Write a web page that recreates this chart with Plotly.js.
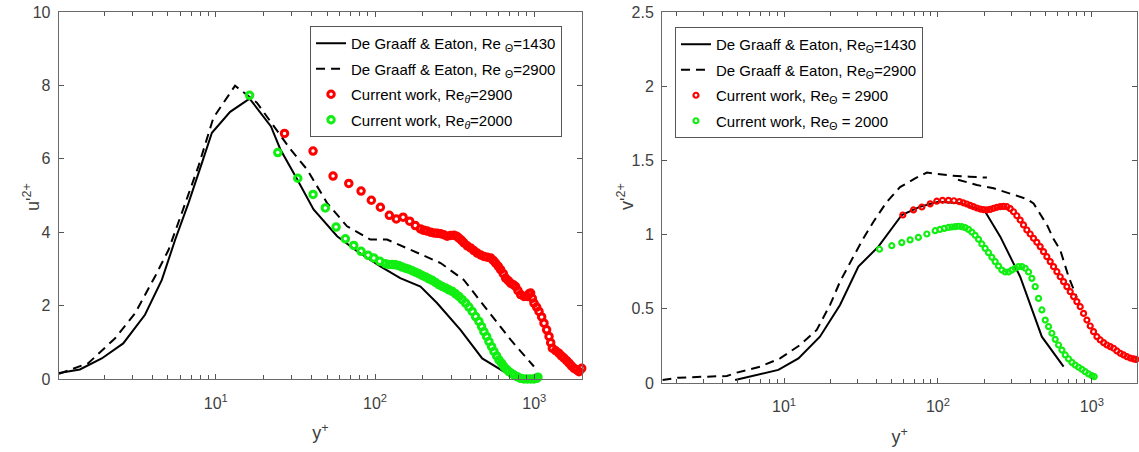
<!DOCTYPE html>
<html>
<head>
<meta charset="utf-8">
<script src="https://cdn.plot.ly/plotly-3.0.1.min.js"></script>
<style>html,body{margin:0;padding:0;background:#fff;}#chart{width:1139px;height:452px;}</style>
</head>
<body>
<div id="chart"></div>
<script>
// ---------- Left panel: u'^2+ ----------
const uDG1430_x = [1.035, 1.40, 1.92, 2.62, 3.59, 4.58, 5.56, 6.74, 8.18, 9.45, 12.3, 16.3, 22.2, 25.4, 32.4, 41.1, 57.8, 77.1, 108, 144, 193, 245, 344, 471, 645];
const uDG1430_y = [0.16, 0.26, 0.56, 0.97, 1.75, 2.70, 3.80, 4.80, 5.89, 6.71, 7.28, 7.64, 6.88, 6.26, 5.44, 4.62, 3.89, 3.48, 3.07, 2.75, 2.52, 2.07, 1.34, 0.56, 0.20];

const uDG2900_x = [1.035, 1.58, 2.33, 3.11, 4.16, 5.05, 6.12, 7.78, 9.66, 13.2, 18.1, 29.4, 37.4, 49.9, 66.7, 93.5, 119, 175, 258, 361, 507, 710, 995];
const uDG2900_y = [0.14, 0.43, 1.11, 1.79, 2.80, 3.52, 4.53, 5.80, 7.12, 7.99, 7.53, 6.26, 5.71, 4.80, 4.16, 3.80, 3.80, 3.48, 3.16, 2.70, 1.89, 1.07, 0.34];

const uCW2900_x = [27.0, 40.8, 54.5, 68.4, 81.7, 94.8, 108, 123, 136, 150, 165, 179,
  193, 202.5, 212.5, 223, 234, 245.7, 257.8, 270.5, 283.9, 297.9, 312.7, 325, 336.2, 349.4, 361.4, 379.3, 398, 417.7, 438.4, 460.1, 482.8, 506.7, 531.8, 552.7, 571.7, 594.2, 614.7, 638.9, 660.7, 686.8, 710.4, 738.4, 763.7, 790, 821.1, 861.6, 904.2, 926.3, 949, 972.2, 995.9, 1035, 1071, 1113, 1151, 1196, 1238, 1268, 1299, 1363, 1431, 1480, 1538, 1598, 1654, 1711, 1778, 1848, 1911, 1987];
const uCW2900_y = [6.69, 6.21, 5.53, 5.33, 5.12, 4.87, 4.68, 4.46, 4.36, 4.41, 4.30, 4.18,
  4.09, 4.05, 4.03, 4.00, 3.98, 3.97, 3.96, 3.93, 3.89, 3.91, 3.92, 3.89, 3.84, 3.78, 3.71, 3.63, 3.57, 3.50, 3.43, 3.38, 3.34, 3.32, 3.30, 3.23, 3.16, 3.07, 2.98, 2.87, 2.75, 2.68, 2.61, 2.57, 2.52, 2.41, 2.30, 2.25, 2.25, 2.32, 2.34, 2.20, 2.07, 1.96, 1.84, 1.69, 1.52, 1.34, 1.16, 0.99, 0.84, 0.77, 0.70, 0.63, 0.57, 0.50, 0.43, 0.36, 0.29, 0.25, 0.20, 0.29];

const uCW2000_x = [16.3, 24.5, 32.7, 40.8, 48.7, 56.9, 65.1, 73.5, 81.7, 90.4, 98.2, 107,
  116.2, 122, 128, 134.4, 141, 148, 155.3, 163, 171, 179.5, 188.4, 197.7, 207.5, 217.7, 228.5, 239.8, 251.6, 264.1, 277.1, 290.9, 305.3, 320.3, 336.2, 352.8, 370.3, 388.6, 407.8, 428, 449.2, 466.9, 482.8, 501.9, 519.2, 539.6, 558.2, 580.2, 600.1, 623.6, 645.2, 670.6, 693.4, 720.8, 745.7, 782.5, 821.1, 861.7, 904.2, 949, 995.9, 1035, 1055];
const uCW2000_y = [7.73, 6.17, 5.47, 5.03, 4.66, 4.14, 3.82, 3.64, 3.48, 3.37, 3.30, 3.21,
  3.14, 3.12, 3.12, 3.11, 3.09, 3.05, 3.02, 2.99, 2.95, 2.91, 2.87, 2.82, 2.78, 2.73, 2.69, 2.63, 2.57, 2.52, 2.48, 2.43, 2.39, 2.32, 2.25, 2.16, 2.07, 1.96, 1.84, 1.70, 1.57, 1.43, 1.29, 1.16, 1.02, 0.88, 0.75, 0.63, 0.52, 0.43, 0.34, 0.26, 0.20, 0.15, 0.11, 0.06, 0.02, 0.00, 0.00, 0.00, 0.00, 0.02, 0.05];

// ---------- Right panel: v'^2+ ----------
const vDG1430_x = [4.81, 9.18, 12.4, 17.1, 23.1, 30.4, 41.0, 58.2, 76.6, 101, 139, 203, 254, 342, 473, 655];
const vDG1430_y = [0.02, 0.088, 0.166, 0.312, 0.526, 0.784, 0.919, 1.132, 1.188, 1.222, 1.211, 1.154, 0.986, 0.716, 0.312, 0.110];

const vDG2900_x = [1.62, 2.06, 4.25, 4.93, 6.99, 9.42, 12.7, 16.3, 19.9, 23.1, 28.2, 32.8, 38.1, 46.5, 56.7, 71.1, 84.7, 103, 123, 160, 208, null, 135, 179, 230, 295, 378, 418, 460, 511, 564, 623, 706, 800];
const vDG2900_y = [0.02, 0.036, 0.047, 0.07, 0.11, 0.166, 0.256, 0.357, 0.526, 0.683, 0.851, 0.975, 1.087, 1.22, 1.32, 1.379, 1.418, 1.409, 1.397, 1.39, 1.384, null, 1.37, 1.334, 1.312, 1.278, 1.24, 1.21, 1.14, 1.065, 0.97, 0.896, 0.716, 0.575];

const vCW2900_x = [59.1, 69.3, 78.6, 89, 98.2, 107, 117, 127, 138, 146,
  154, 161.9, 170.2, 178.9, 188.1, 197.7, 207.8, 218.4, 229.6, 241.3, 253.7, 266.7, 280.3, 294.7, 309.7, 325.6, 342.2, 359.8, 378.2, 397.6, 417.9, 439.3, 461.7, 485.4, 510.3, 536.3, 563.8, 592.6, 623, 654.8, 688.4, 723.6, 760.7, 799.4, 840.5, 883.5, 928.8, 976.1, 1026, 1079, 1134, 1192, 1253, 1317, 1384, 1455, 1530, 1608, 1690, 1776, 1867, 1934];
const vCW2900_y = [1.132, 1.166, 1.186, 1.207, 1.225, 1.231, 1.231, 1.228, 1.222, 1.214,
  1.206, 1.197, 1.188, 1.179, 1.172, 1.168, 1.166, 1.170, 1.177, 1.184, 1.188, 1.190, 1.188, 1.175, 1.154, 1.127, 1.098, 1.065, 1.031, 1.004, 0.975, 0.948, 0.919, 0.885, 0.851, 0.818, 0.784, 0.750, 0.716, 0.683, 0.649, 0.615, 0.582, 0.548, 0.514, 0.469, 0.424, 0.384, 0.346, 0.312, 0.290, 0.272, 0.256, 0.245, 0.234, 0.216, 0.200, 0.189, 0.177, 0.168, 0.162, 0.159];

const vCW2000_x = [41.7, 50.1, 58.2, 65.9, 74.6, 84.7, 95.9, 103, 110, 117, 123,
  129.4, 135.9, 142.9, 150.2, 157.9, 166, 174.5, 183.4, 192.8, 202.7, 213.1, 224, 235.4, 247.5, 260.2, 273.5, 287.4, 302.1, 317.6, 333.9, 351, 368.9, 387.8, 407.6, 428.5, 450.5, 473.5, 497.8, 523.2, 550, 578.1, 607.6, 638.9, 671.5, 705.9, 742, 779.8, 819.8, 861.5, 905.8, 952.1, 1001, 1036];
const vCW2000_y = [0.901, 0.925, 0.946, 0.964, 0.981, 1.004, 1.026, 1.035, 1.042, 1.048, 1.051,
  1.053, 1.056, 1.053, 1.047, 1.035, 1.017, 0.995, 0.968, 0.937, 0.907, 0.878, 0.847, 0.818, 0.788, 0.761, 0.748, 0.748, 0.761, 0.773, 0.784, 0.784, 0.773, 0.748, 0.705, 0.649, 0.570, 0.492, 0.424, 0.380, 0.335, 0.294, 0.256, 0.222, 0.189, 0.162, 0.139, 0.121, 0.106, 0.092, 0.076, 0.061, 0.049, 0.043];

// ---------- Labels ----------
const leftNames = ['De Graaff & Eaton, Re <sub>Θ</sub>=1430', 'De Graaff & Eaton, Re <sub>Θ</sub>=2900', 'Current work, Re<sub><i>θ</i></sub>=2900', 'Current work, Re<sub><i>θ</i></sub>=2000'];
const rightNames = ['De Graaff & Eaton, Re<sub>Θ</sub>=1430', 'De Graaff & Eaton, Re<sub>Θ</sub>=2900', 'Current work, Re<sub>Θ</sub> = 2900', 'Current work, Re<sub>Θ</sub> = 2000'];
const xTickVals = [10, 100, 1000];
const xTickText = ['10<sup>1</sup>', '10<sup>2</sup>', '10<sup>3</sup>'];
const yTitleLeft = "u'<sup>2+</sup>";
const yTitleRight = "v'<sup>2+</sup>";

const FONT = 'Arial, "Liberation Sans", sans-serif';
const RED = '#ff0000', GREEN = '#11ee11';

function lineTrace(x, y, name, dash, xa, ya, leg, grp) {
  return {x, y, name, type:'scatter', mode:'lines', xaxis:xa, yaxis:ya, legend:leg, legendgroup:grp,
    connectgaps:false, line:{color:'#000', width:2, dash:dash}};
}
function markTrace(x, y, name, color, size, lw, xa, ya, leg, grp) {
  return {x, y, name, type:'scatter', mode:'markers', xaxis:xa, yaxis:ya, legend:leg, legendgroup:grp, cliponaxis:false,
    marker:{symbol:'circle-open', color:color, size:size, line:{color:color, width:lw}}};
}

const data = [
  lineTrace(uDG1430_x, uDG1430_y, leftNames[0], 'solid', 'x', 'y', 'legend', 'a1'),
  lineTrace(uDG2900_x, uDG2900_y, leftNames[1], '9px,6px', 'x', 'y', 'legend', 'a2'),
  markTrace(uCW2900_x, uCW2900_y, leftNames[2], RED, 6.5, 3, 'x', 'y', 'legend', 'a3'),
  markTrace(uCW2000_x, uCW2000_y, leftNames[3], GREEN, 6.5, 3, 'x', 'y', 'legend', 'a4'),
  lineTrace(vDG1430_x, vDG1430_y, rightNames[0], 'solid', 'x2', 'y2', 'legend2', 'b1'),
  lineTrace(vDG2900_x, vDG2900_y, rightNames[1], '9px,6px', 'x2', 'y2', 'legend2', 'b2'),
  markTrace(vCW2900_x, vCW2900_y, rightNames[2], RED, 5, 2.2, 'x2', 'y2', 'legend2', 'b3'),
  markTrace(vCW2000_x, vCW2000_y, rightNames[3], GREEN, 5, 2.2, 'x2', 'y2', 'legend2', 'b4')
];

const axisCommon = {
  showline:true, linecolor:'#6a6a6a', linewidth:1.3, mirror:'ticks', ticks:'inside', ticklen:5, tickwidth:1, tickcolor:'#555',
  showgrid:false, zeroline:false, tickfont:{family:FONT, size:16, color:'#404040'}
};
function xAxis(domain, range, anchor) {
  return Object.assign({}, axisCommon, {type:'log', domain, range, anchor, tickmode:'array', tickvals:xTickVals, ticktext:xTickText,
    ticklabelstandoff:9,
    minor:{ticks:'inside', ticklen:4, tickwidth:1, tickcolor:'#555', dtick:'D1', showgrid:false},
    title:{text:'y<sup>+</sup>', font:{family:FONT, size:18, color:'#404040'}, standoff:16}});
}
function yAxis(domain, range, dtick, anchor) {
  return Object.assign({}, axisCommon, {domain, range, dtick, anchor, tick0:0, ticklabelstandoff:4});
}
const legendCommon = {bgcolor:'#fff', bordercolor:'#555', borderwidth:1, xanchor:'left', yanchor:'top',
  font:{family:FONT, size:15, color:'#000'}, tracegroupgap:3, itemclick:false};
const titleFont = {family:FONT, size:18, color:'#404040'};

const layout = {
  width:1139, height:452, margin:{l:0, r:0, t:0, b:0}, paper_bgcolor:'#fff', plot_bgcolor:'#fff',
  showlegend:true, font:{family:FONT},
  xaxis: xAxis([0.0518, 0.511], [0.015, 3.30], 'y'),
  yaxis: yAxis([0.1615, 0.9735], [0, 10], 2, 'x'),
  xaxis2: xAxis([0.5815, 0.9982], [0.209, 3.293], 'y2'),
  yaxis2: yAxis([0.1527, 0.9735], [0, 2.5], 0.5, 'x2'),
  legend: Object.assign({}, legendCommon, {x:0.2722, y:0.9425}),
  legend2: Object.assign({}, legendCommon, {x:0.5926, y:0.9403}),
  annotations: [
    {text:yTitleLeft, textangle:-90, xref:'paper', yref:'paper', x:32/1139, y:(452-197)/452, xanchor:'center', yanchor:'middle', showarrow:false, font:titleFont},
    {text:yTitleRight, textangle:-90, xref:'paper', yref:'paper', x:626/1139, y:(452-197)/452, xanchor:'center', yanchor:'middle', showarrow:false, font:titleFont}
  ]
};

Plotly.newPlot('chart', data, layout, {displayModeBar:false, staticPlot:true});
</script>
</body>
</html>
